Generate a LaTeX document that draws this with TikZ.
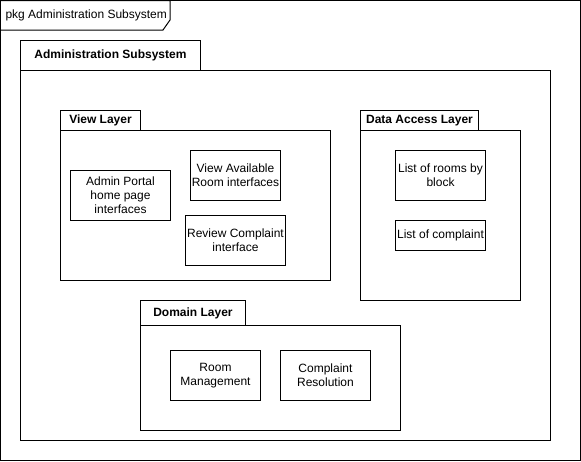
\documentclass[tikz,border=0pt]{standalone}
\usepackage{fontspec}
\setmainfont{Liberation Sans}
\begin{document}
\begin{tikzpicture}[x=0.75pt, y=-0.75pt, line width=0.75pt,
    every node/.style = {font=\fontsize{9}{10.5}\selectfont, inner sep=0pt},
    comp/.style = {draw, align=center, anchor=north west, minimum width=67.5pt, minimum height=37.5pt},
    tab/.style = {draw, anchor=north west, font=\fontsize{9}{10.5}\selectfont\bfseries, minimum height=15pt},
    body/.style = {draw, anchor=north west}]
    \useasboundingbox (0,0) rectangle (581,461);
    % outer frame
    \draw (0.5,0.5) rectangle (580.5,460.5);
    \draw (0.5,0.5) -- (170,0.5) -- (170,20) -- (163,30) -- (0.5,30);
    \node[anchor=west] (pkg) at (5,15) {pkg Administration Subsystem};
    % Administration Subsystem
    \node[tab, minimum width=135pt, minimum height=22.5pt] (admintab) at (20,40) {Administration Subsystem};
    \node[body, minimum width=397.5pt, minimum height=277.5pt] (adminbody) at (20,70) {};
    % View Layer
    \node[tab, minimum width=60pt] (viewtab) at (60,110) {View Layer};
    \node[body, minimum width=202.5pt, minimum height=112.5pt] (viewbody) at (60,130) {};
    \node[comp, minimum width=75pt] (portal) at (70,170) {Admin Portal\\home page\\interfaces};
    \node[comp] (rooms) at (190,150) {View Available\\Room interfaces};
    \node[comp, minimum width=75pt] (review) at (185,215) {Review Complaint\\interface};
    % Data Access Layer
    \node[tab, minimum width=88.5pt] (datatab) at (360,110) {Data Access Layer};
    \node[body, minimum width=120pt, minimum height=127.5pt] (databody) at (360,130) {};
    \node[comp] (roomlist) at (395,150) {List of rooms by\\block};
    \node[comp, minimum height=22.5pt] (complist) at (395,220) {List of complaint};
    % Domain Layer
    \node[tab, minimum width=78.75pt, minimum height=18.75pt] (domtab) at (140,300) {Domain Layer};
    \node[body, minimum width=195pt, minimum height=78.75pt] (dombody) at (140,325) {};
    \node[comp] (roommgmt) at (170,350) {Room\\Management};
    \node[comp] (resolution) at (280,350) {Complaint\\Resolution};
\end{tikzpicture}
\end{document}
